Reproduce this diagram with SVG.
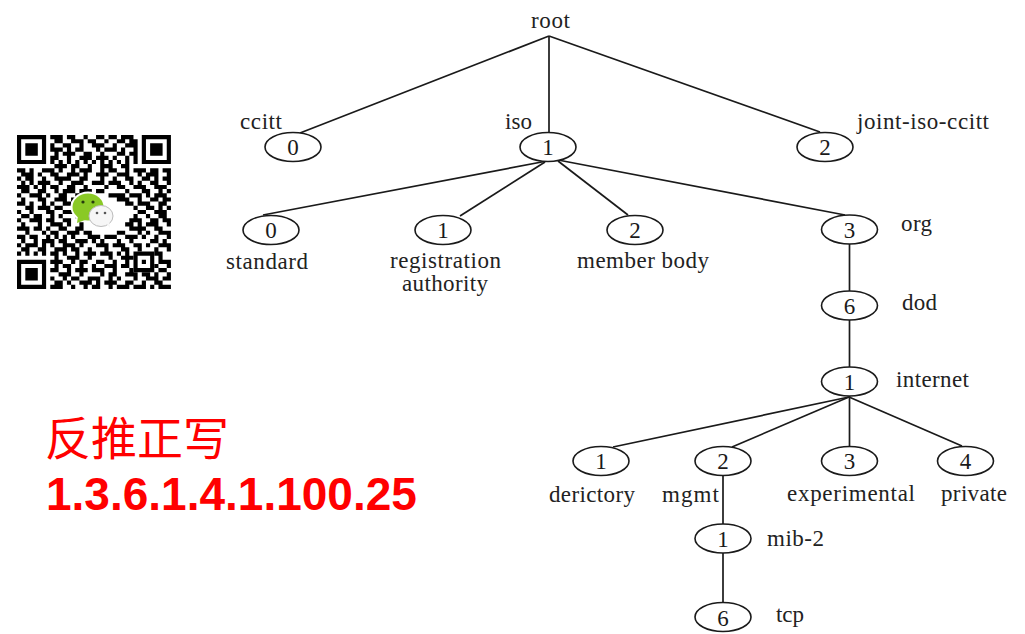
<svg xmlns="http://www.w3.org/2000/svg" width="1025" height="634" viewBox="0 0 1025 634">
<style>
.e{fill:#fff;stroke:#1a1a1a;stroke-width:1.6}
.d{font:23px "Liberation Serif",serif;fill:#1a1a1a;text-anchor:middle}
.l{font:23px "Liberation Serif",serif;fill:#222}
#connectors line{stroke:#1a1a1a;stroke-width:1.7}
.r1{font:46px "Noto Sans CJK SC",sans-serif;fill:#f00}
.r2{font:bold 46px "Liberation Sans",sans-serif;fill:#f00}
</style>
<defs>
<filter id="soft" x="-5%" y="-5%" width="110%" height="110%"><feGaussianBlur stdDeviation="0.35"/></filter>
<path id="finder" fill-rule="evenodd" d="M0 0h7v7h-7zM1 1v5h5v-5zM2 2h3v3h-3z"/>
</defs>
<rect width="1025" height="634" fill="#fff"/>
<g id="qr" filter="url(#soft)">
<g transform="translate(17 135) scale(4.16)">
<path fill="none" stroke="#000" stroke-width="1" d="M8 .5h3M12 .5h2M16 .5h1M19 .5h2M22 .5h2M25 .5h3M9 1.500h2M13 1.500h3M17 1.500h2M21 1.500h1M24 1.500h2M27 1.500h2M8 2.500h1M11 2.500h2M15 2.500h1M18 2.500h3M23 2.500h1M26 2.500h3M8 3.500h3M12 3.500h1M14 3.500h2M19 3.500h1M21 3.500h3M25 3.500h1M28 3.500h1M9 4.500h1M11 4.500h3M16 4.500h2M20 4.500h1M24 4.500h2M27 4.500h2M8 5.500h2M12 5.500h1M15 5.500h3M19 5.500h3M23 5.500h1M26 5.500h1M28 5.500h1M8 6.500h1M10 6.500h1M12 6.500h1M14 6.500h1M16 6.500h1M18 6.500h1M20 6.500h1M22 6.500h1M24 6.500h1M26 6.500h1M28 6.500h1M9 7.500h3M13 7.500h2M17 7.500h1M20 7.500h3M25 7.500h2M0 8.500h2M3 8.500h1M6 8.500h3M10 8.500h1M13 8.500h1M15 8.500h3M20 8.500h1M22 8.500h2M26 8.500h1M28 8.500h3M32 8.500h2M35 8.500h2M1 9.500h3M5 9.500h1M8 9.500h2M12 9.500h3M16 9.500h1M19 9.500h3M24 9.500h3M29 9.500h1M31 9.500h3M36 9.500h1M0 10.500h1M2 10.500h2M6 10.500h1M9 10.500h4M15 10.500h2M20 10.500h1M23 10.500h1M26 10.500h2M30 10.500h2M33 10.500h1M35 10.500h2M1 11.500h1M3 11.500h1M5 11.500h3M10 11.500h1M13 11.500h3M18 11.500h3M22 11.500h3M27 11.500h1M29 11.500h1M32 11.500h2M36 11.500h1M0 12.500h3M4 12.500h1M6 12.500h1M8 12.500h2M12 12.500h2M16 12.500h1M21 12.500h1M24 12.500h2M28 12.500h3M33 12.500h3M1 13.500h2M5 13.500h2M9 13.500h1M11 13.500h3M15 13.500h3M19 13.500h2M26 13.500h1M30 13.500h2M34 13.500h1M36 13.500h1M0 14.500h1M3 14.500h3M7 14.500h1M10 14.500h2M14 14.500h1M18 14.500h1M22 14.500h4M27 14.500h3M31 14.500h1M33 14.500h3M1 15.500h1M5 15.500h2M9 15.500h3M13 15.500h2M16 15.500h1M24 15.500h3M29 15.500h1M32 15.500h2M35 15.500h2M0 16.500h2M3 16.500h1M6 16.500h1M8 16.500h1M11 16.500h2M15 16.500h1M26 16.500h2M29 16.500h3M34 16.500h2M2 17.500h2M5 17.500h3M9 17.500h2M13 17.500h1M28 17.500h1M31 17.500h2M34 17.500h1M36 17.500h1M0 18.500h1M3 18.500h1M7 18.500h2M11 18.500h3M29 18.500h2M33 18.500h3M1 19.500h2M4 19.500h2M8 19.500h1M10 19.500h1M14 19.500h1M28 19.500h1M31 19.500h1M34 19.500h2M0 20.500h1M3 20.500h3M7 20.500h2M11 20.500h2M27 20.500h3M32 20.500h2M35 20.500h2M1 21.500h1M5 21.500h1M8 21.500h3M12 21.500h1M15 21.500h1M26 21.500h2M29 21.500h1M31 21.500h3M36 21.500h1M0 22.500h3M4 22.500h2M7 22.500h1M10 22.500h2M14 22.500h2M27 22.500h4M33 22.500h2M2 23.500h1M6 23.500h1M8 23.500h2M12 23.500h3M16 23.500h2M24 23.500h2M29 23.500h1M31 23.500h1M34 23.500h3M0 24.500h2M3 24.500h2M7 24.500h1M9 24.500h1M11 24.500h1M13 24.500h1M17 24.500h3M21 24.500h3M26 24.500h3M30 24.500h1M33 24.500h1M36 24.500h1M1 25.500h1M4 25.500h1M6 25.500h3M10 25.500h2M14 25.500h3M18 25.500h1M20 25.500h1M24 25.500h1M27 25.500h1M32 25.500h2M35 25.500h1M0 26.500h1M2 26.500h3M6 26.500h1M8 26.500h1M11 26.500h3M15 26.500h1M19 26.500h3M23 26.500h3M28 26.500h2M31 26.500h1M34 26.500h3M1 27.500h2M5 27.500h2M9 27.500h3M13 27.500h2M17 27.500h1M21 27.500h1M25 27.500h2M29 27.500h1M33 27.500h1M36 27.500h1M0 28.500h1M2 28.500h1M4 28.500h1M6 28.500h1M8 28.500h2M11 28.500h1M14 28.500h1M16 28.500h3M20 28.500h3M24 28.500h1M26 28.500h1M33 28.500h2M9 29.500h1M12 29.500h3M17 29.500h1M22 29.500h1M25 29.500h3M34 29.500h1M8 30.500h3M13 30.500h1M15 30.500h2M19 30.500h2M23 30.500h1M26 30.500h1M34 30.500h3M9 31.500h1M11 31.500h2M15 31.500h1M18 31.500h1M21 31.500h3M25 31.500h2M33 31.500h1M36 31.500h1M8 32.500h2M12 32.500h1M14 32.500h3M18 32.500h3M23 32.500h1M27 32.500h1M34 32.500h2M10 33.500h3M15 33.500h1M20 33.500h1M22 33.500h2M26 33.500h3M30 33.500h2M33 33.500h1M36 33.500h1M8 34.500h1M11 34.500h1M13 34.500h2M17 34.500h3M22 34.500h1M24 34.500h1M28 34.500h1M31 34.500h3M35 34.500h2M9 35.500h2M12 35.500h1M15 35.500h3M19 35.500h1M21 35.500h3M26 35.500h2M30 35.500h1M33 35.500h2M8 36.500h3M13 36.500h1M16 36.500h1M18 36.500h2M22 36.500h1M24 36.500h3M28 36.500h3M32 36.500h1M34 36.500h3"/>
<use href="#finder"/><use href="#finder" x="30"/><use href="#finder" y="30"/>
<path fill-rule="evenodd" d="M28 28h5v5h-5zM29 29v3h3v-3zM30 30h1v1h-1z"/>
</g>
<ellipse cx="88" cy="207" rx="17.500" ry="15.500" fill="#fff"/>
<ellipse cx="101" cy="216" rx="14" ry="12.500" fill="#fff"/>
<ellipse cx="88" cy="207" rx="15.500" ry="13.500" fill="#8ac926"/>
<path fill="#8ac926" d="M78 216l-1 7 8-3z"/>
<circle cx="83" cy="202" r="1.600" fill="#263a10"/><circle cx="93" cy="202" r="1.600" fill="#263a10"/>
<ellipse cx="101" cy="216" rx="12" ry="10.500" fill="#f6f6f6" stroke="#bbb"/>
<path fill="#f6f6f6" d="M106 223l4 5-1-7z"/>
<circle cx="97" cy="213" r="1.300" fill="#555"/><circle cx="105" cy="213" r="1.300" fill="#555"/>
</g>
<g id="connectors">
<line x1="549" y1="36" x2="300" y2="133"/>
<line x1="549" y1="36" x2="549" y2="133"/>
<line x1="549" y1="36" x2="820" y2="132"/>
<line x1="547" y1="161" x2="263" y2="215"/>
<line x1="545" y1="162" x2="460" y2="216"/>
<line x1="558" y1="161" x2="628" y2="215"/>
<line x1="558" y1="160" x2="845" y2="215"/>
<line x1="849.500" y1="244" x2="849.500" y2="291"/>
<line x1="849.500" y1="320" x2="849.500" y2="367"/>
<line x1="849" y1="397" x2="613" y2="447"/>
<line x1="849" y1="397" x2="732" y2="447"/>
<line x1="849.500" y1="396" x2="849.500" y2="446"/>
<line x1="849" y1="397" x2="962" y2="446"/>
<line x1="723" y1="476" x2="723" y2="524"/>
<line x1="723" y1="553" x2="723" y2="602"/>
</g>
<g id="root"><text class="l" x="531" y="28" textLength="39">root</text></g>
<g id="ccitt"><ellipse class="e" cx="293" cy="147" rx="28" ry="14.500"/><text class="d" x="293" y="155">0</text><text class="l" x="240" y="129" textLength="42">ccitt</text></g>
<g id="iso"><ellipse class="e" cx="548" cy="147" rx="28" ry="14.500"/><text class="d" x="548" y="155">1</text><text class="l" x="505" y="129" textLength="27">iso</text></g>
<g id="joint-iso-ccitt"><ellipse class="e" cx="825" cy="147" rx="28" ry="14.500"/><text class="d" x="825" y="155">2</text><text class="l" x="857" y="129" textLength="132">joint-iso-ccitt</text></g>
<g id="standard"><ellipse class="e" cx="271" cy="230" rx="28" ry="14.500"/><text class="d" x="271" y="238">0</text><text class="l" x="226" y="269" textLength="82">standard</text></g>
<g id="registration-authority"><ellipse class="e" cx="443" cy="230" rx="28" ry="14.500"/><text class="d" x="443" y="238">1</text><text class="l" x="390" y="268" textLength="111">registration</text><text class="l" x="402" y="291" textLength="86">authority</text></g>
<g id="member-body"><ellipse class="e" cx="635" cy="230" rx="28" ry="14.500"/><text class="d" x="635" y="238">2</text><text class="l" x="577" y="268" textLength="132">member body</text></g>
<g id="org"><ellipse class="e" cx="849.500" cy="229.500" rx="28" ry="14.500"/><text class="d" x="849.500" y="238">3</text><text class="l" x="901" y="231" textLength="31">org</text></g>
<g id="dod"><ellipse class="e" cx="849.500" cy="305.500" rx="28" ry="14.500"/><text class="d" x="849.500" y="314">6</text><text class="l" x="902" y="310" textLength="35">dod</text></g>
<g id="internet"><ellipse class="e" cx="849.500" cy="381.500" rx="28" ry="14.500"/><text class="d" x="849.500" y="390">1</text><text class="l" x="896" y="387" textLength="73">internet</text></g>
<g id="derictory"><ellipse class="e" cx="601" cy="461" rx="28" ry="14.500"/><text class="d" x="601" y="469">1</text><text class="l" x="549" y="502" textLength="86">derictory</text></g>
<g id="mgmt"><ellipse class="e" cx="723" cy="461" rx="28" ry="14.500"/><text class="d" x="723" y="469">2</text><text class="l" x="662" y="502" textLength="57">mgmt</text></g>
<g id="experimental"><ellipse class="e" cx="849.500" cy="461" rx="28" ry="14.500"/><text class="d" x="849.500" y="469">3</text><text class="l" x="787" y="501" textLength="128">experimental</text></g>
<g id="private"><ellipse class="e" cx="965.500" cy="461" rx="28" ry="14.500"/><text class="d" x="965.500" y="469">4</text><text class="l" x="941" y="501" textLength="66">private</text></g>
<g id="mib-2"><ellipse class="e" cx="723" cy="538.500" rx="28" ry="14.500"/><text class="d" x="723" y="547">1</text><text class="l" x="767" y="546" textLength="57">mib-2</text></g>
<g id="tcp"><ellipse class="e" cx="723" cy="617" rx="28" ry="14.500"/><text class="d" x="723" y="626">6</text><text class="l" x="776" y="622" textLength="28">tcp</text></g>
<text class="r1" x="45" y="455">反推正写</text>
<text class="r2" x="46" y="510">1.3.6.1.4.1.100.25</text>
</svg>
